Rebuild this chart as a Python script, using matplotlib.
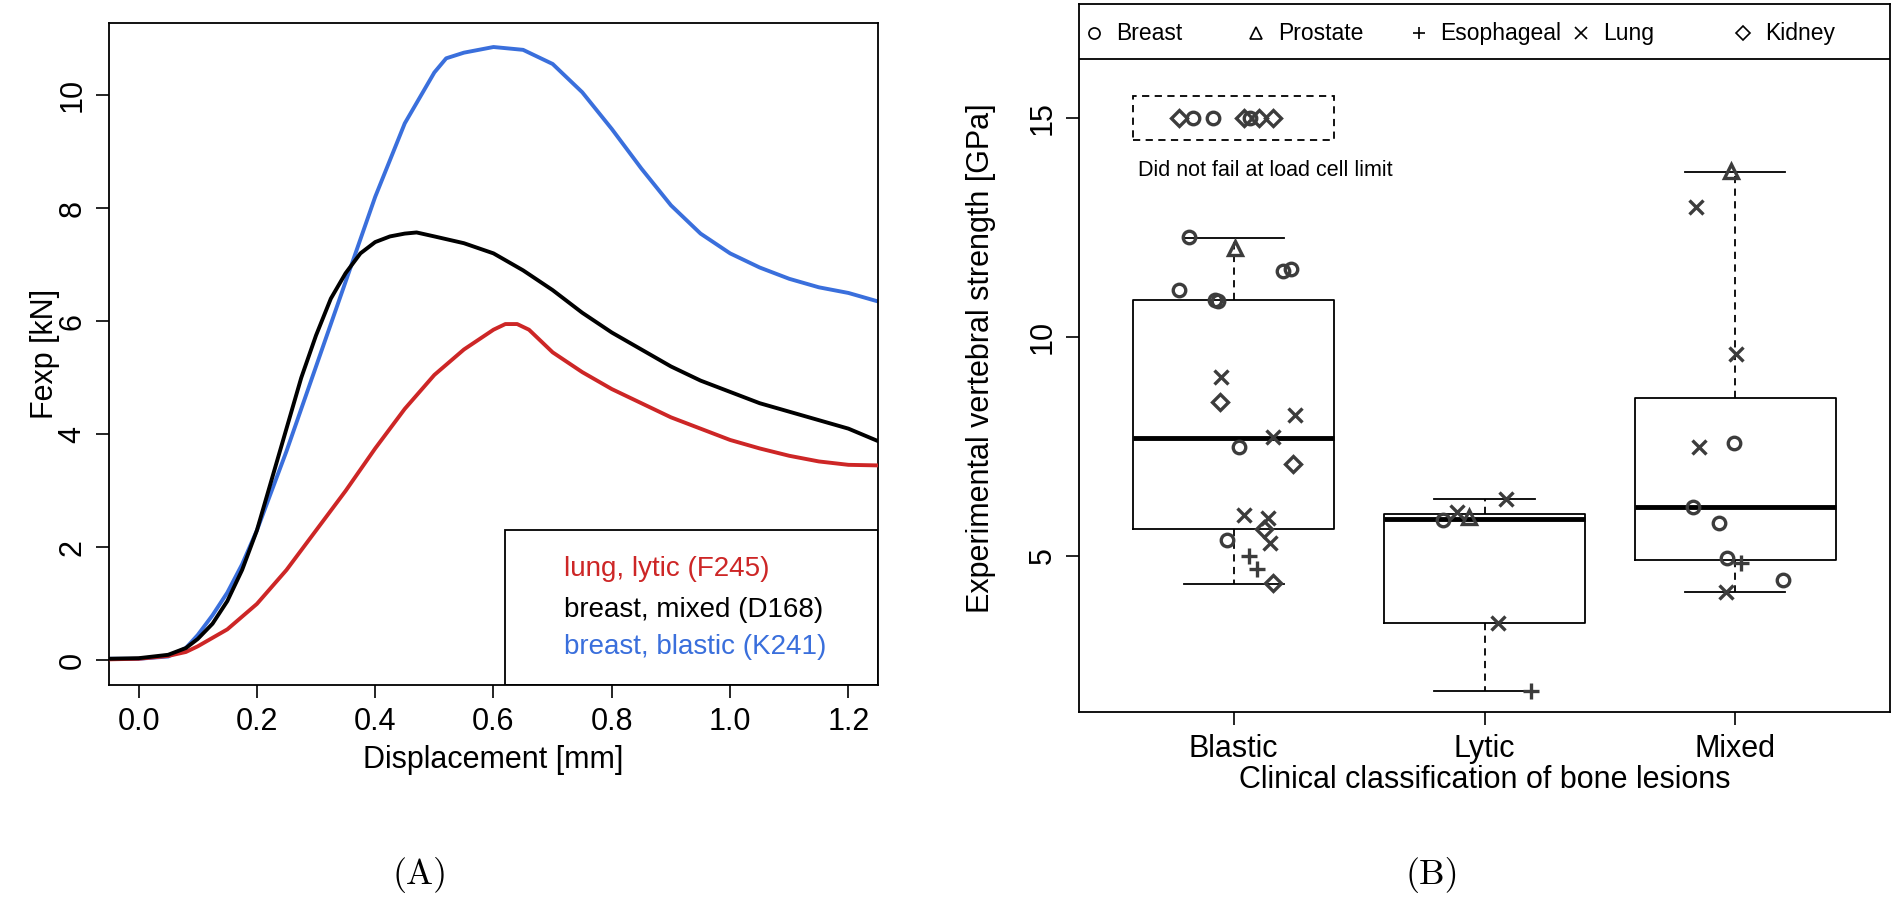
import matplotlib
matplotlib.use('Agg')
import matplotlib.pyplot as plt
from matplotlib.patches import Rectangle
from matplotlib.lines import Line2D

plt.rcParams['font.family'] = ['Liberation Sans', 'DejaVu Sans']

# ---- panel A: force-displacement curves ----
x_blastic = [-0.05, 0.0, 0.05, 0.08, 0.1, 0.125, 0.15, 0.175, 0.2, 0.25, 0.3, 0.35, 0.4, 0.45,
             0.5, 0.52, 0.55, 0.6, 0.65, 0.7, 0.75, 0.8, 0.85, 0.9, 0.95, 1.0, 1.05, 1.1, 1.15, 1.2, 1.25]
f_blastic = [0.03, 0.03, 0.07, 0.22, 0.45, 0.8, 1.2, 1.7, 2.3, 3.7, 5.2, 6.7, 8.2, 9.5,
             10.4, 10.65, 10.75, 10.85, 10.8, 10.55, 10.05, 9.4, 8.7, 8.05, 7.55, 7.2, 6.95, 6.75, 6.6, 6.5, 6.35]

x_mixed = [-0.05, 0.0, 0.05, 0.08, 0.1, 0.125, 0.15, 0.175, 0.2, 0.225, 0.25, 0.275, 0.3, 0.325, 0.35,
           0.375, 0.4, 0.425, 0.45, 0.47, 0.5, 0.55, 0.6, 0.65, 0.7, 0.75, 0.8, 0.85, 0.9, 0.95,
           1.0, 1.05, 1.1, 1.15, 1.2, 1.25]
f_mixed = [0.03, 0.04, 0.1, 0.22, 0.38, 0.65, 1.05, 1.6, 2.3, 3.2, 4.1, 5.0, 5.75, 6.4, 6.85,
           7.2, 7.4, 7.5, 7.55, 7.57, 7.5, 7.38, 7.2, 6.9, 6.55, 6.15, 5.8, 5.5, 5.2, 4.95,
           4.75, 4.55, 4.4, 4.25, 4.1, 3.88]

x_lytic = [-0.05, 0.0, 0.05, 0.08, 0.1, 0.15, 0.2, 0.25, 0.3, 0.35, 0.4, 0.45, 0.5, 0.55, 0.6,
           0.62, 0.64, 0.66, 0.7, 0.75, 0.8, 0.85, 0.9, 0.95, 1.0, 1.05, 1.1, 1.15, 1.2, 1.25]
f_lytic = [0.02, 0.03, 0.08, 0.15, 0.25, 0.55, 1.0, 1.6, 2.3, 3.0, 3.75, 4.45, 5.05, 5.5, 5.85,
           5.95, 5.95, 5.85, 5.45, 5.1, 4.8, 4.55, 4.3, 4.1, 3.9, 3.75, 3.62, 3.52, 3.46, 3.45]

curve_labels = ['lung, lytic (F245)', 'breast, mixed (D168)', 'breast, blastic (K241)']
curve_colors = ['#cd2626', '#000000', '#3a6fdc']

# ---- panel B: strength by lesion type ----
groups = ['Blastic', 'Lytic', 'Mixed']
q1 = [5.61, 3.47, 4.91]
med = [7.69, 5.84, 6.12]
q3 = [10.85, 5.96, 8.60]
whislo = [4.36, 1.92, 4.18]
whishi = [12.27, 6.30, 13.77]

# points: group index, jitter, strength
breast_g = [1, 1, 1, 1, 1, 1, 1, 1, 2, 3, 3, 3, 3, 3]
breast_dx = [-0.18, 0.195, 0.23, -0.22, -0.076, -0.064, 0.02, -0.028, -0.167, -0.004, -0.167, -0.064, -0.032, 0.19]
breast_y = [12.29, 11.50, 11.56, 11.08, 10.85, 10.83, 7.48, 5.36, 5.82, 7.57, 6.12, 5.75, 4.95, 4.45]

prostate_g = [1, 2, 3]
prostate_dx = [0.004, -0.06, -0.016]
prostate_y = [12.04, 5.90, 13.79]

esoph_g = [1, 1, 2, 3]
esoph_dx = [0.06, 0.092, 0.187, 0.024]
esoph_y = [5.00, 4.70, 1.92, 4.84]

lung_g = [1, 1, 1, 1, 1, 1, 2, 2, 2, 3, 3, 3, 3]
lung_dx = [-0.052, 0.243, 0.155, 0.04, 0.135, 0.143, -0.11, 0.084, 0.052, -0.155, 0.004, -0.143, -0.036]
lung_y = [9.08, 8.21, 7.71, 5.93, 5.87, 5.30, 6.00, 6.30, 3.47, 12.97, 9.62, 7.48, 4.18]

kidney_g = [1, 1, 1, 1]
kidney_dx = [-0.056, 0.235, 0.12, 0.155]
kidney_y = [8.51, 7.10, 5.62, 4.38]

# specimens that did not fail (plotted at 15)
nofail_marker = ['D', 'o', 'o', 'D', 'o', 'D', 'D']
nofail_dx = [-0.22, -0.163, -0.084, 0.04, 0.066, 0.1, 0.155]
nofail_y = [15, 15, 15, 15, 15, 15, 15]

legend_names = ['Breast', 'Prostate', 'Esophageal', 'Lung', 'Kidney']
legend_markers = ['o', '^', '+', 'x', 'D']

W, H = 1896, 924
fig = plt.figure(figsize=(W / 100, H / 100), dpi=100)

# ---------------- panel A ----------------
axA = fig.add_axes([109 / W, 1 - 685 / H, (878 - 109) / W, (685 - 22.7) / H])
axA.plot(x_blastic, f_blastic, color=curve_colors[2], lw=2.8, zorder=2)
axA.plot(x_lytic, f_lytic, color=curve_colors[0], lw=2.8, zorder=3)
axA.plot(x_mixed, f_mixed, color=curve_colors[1], lw=2.8, zorder=4)
axA.set_xlim(-0.05, 1.25)
axA.set_ylim(-0.434, 11.28)
axA.set_xticks([0.0, 0.2, 0.4, 0.6, 0.8, 1.0, 1.2])
axA.set_xticklabels(['0.0', '0.2', '0.4', '0.6', '0.8', '1.0', '1.2'])
axA.set_yticks([0, 2, 4, 6, 8, 10])
axA.set_xlabel('Displacement [mm]', fontsize=22)
axA.set_ylabel('Fexp [kN]', fontsize=22)
axA.xaxis.set_label_coords(0.5, -0.113)
axA.xaxis.label.set_va('center')
axA.yaxis.set_label_coords(-64 / 769, 0.5)
axA.yaxis.label.set_va('center')

# legend box of panel A
axA.add_patch(Rectangle((0.62, -0.434), 0.63, 2.3 + 0.434, fill=False, lw=1.3,
                        edgecolor='black', zorder=5))
for lab, col, yy in zip(curve_labels, curve_colors, [1.61, 0.90, 0.23]):
    axA.text(0.72, yy, lab, color=col, fontsize=20, ha='left', va='center', zorder=6)

# ---------------- panel B ----------------
axB = fig.add_axes([1079 / W, 1 - 712 / H, (1890 - 1079) / W, (712 - 4) / H])
stats = []
for i in range(3):
    stats.append({'med': med[i], 'q1': q1[i], 'q3': q3[i],
                  'whislo': whislo[i], 'whishi': whishi[i], 'fliers': []})
axB.bxp(stats, positions=[1, 2, 3], widths=0.8, capwidths=0.4, showfliers=False,
        boxprops=dict(color='black', lw=1.3),
        medianprops=dict(color='black', lw=3.5, solid_capstyle='butt'),
        whiskerprops=dict(color='black', lw=1.3, linestyle=(0, (4, 3))),
        capprops=dict(color='black', lw=1.3))

pt_color = '#3c3c3c'
def scatter(gs, dxs, ys, marker, ms):
    xs = [g + d for g, d in zip(gs, dxs)]
    axB.plot(xs, ys, linestyle='none', marker=marker, ms=ms, mfc='none',
             mec=pt_color, mew=2.4, zorder=4)

scatter(breast_g, breast_dx, breast_y, 'o', 9)
scatter(prostate_g, prostate_dx, prostate_y, '^', 10)
scatter(esoph_g, esoph_dx, esoph_y, '+', 12)
scatter(lung_g, lung_dx, lung_y, 'x', 10)
scatter(kidney_g, kidney_dx, kidney_y, 'D', 8)
for m, d, y in zip(nofail_marker, nofail_dx, nofail_y):
    scatter([1], [d], [y], m, 9 if m == 'o' else 8)

axB.add_patch(Rectangle((0.6, 14.5), 0.8, 1.0, fill=False, lw=1.3,
                        linestyle=(0, (4, 3)), edgecolor='black'))
axB.text(0.62, 13.8, 'Did not fail at load cell limit', fontsize=15.5,
         ha='left', va='center')

axB.set_xlim(0.383, 3.617)
axB.set_ylim(1.44, 17.6)
axB.set_xticks([1, 2, 3])
axB.set_xticklabels(groups)
axB.set_yticks([5, 10, 15])
axB.set_xlabel('Clinical classification of bone lesions', fontsize=22)
axB.set_ylabel('Experimental vertebral strength [GPa]', fontsize=22)
axB.xaxis.set_label_coords(0.5, -68 / 708)
axB.xaxis.label.set_va('center')
axB.yaxis.set_label_coords(-98 / 811, 0.5)
axB.yaxis.label.set_va('center')

# legend strip of panel B
axB.axhline(16.35, color='black', lw=1.3)
for k, (name, mk) in enumerate(zip(legend_names, legend_markers)):
    tx = (1116 - 1079) / 811 + k * 0.2001
    axB.add_line(Line2D([tx - 22 / 811], [0.959], transform=axB.transAxes, marker=mk,
                        ms=8 if mk != 'D' else 7, mfc='none', mec='black', mew=1.2,
                        linestyle='none'))
    axB.text(tx, 0.959, name, transform=axB.transAxes, fontsize=16.5,
             ha='left', va='center')

for ax in (axA, axB):
    for s in ax.spines.values():
        s.set_linewidth(1.3)
    ax.tick_params(direction='out', length=9.5, width=1.2, labelsize=22, pad=6)
    for lab in ax.get_yticklabels():
        lab.set_rotation(90)
        lab.set_va('center')

fig.text(420 / W, 1 - 875 / H, '(A)', family='cmr10', fontsize=26, ha='center', va='center')
fig.text(1432 / W, 1 - 875 / H, '(B)', family='cmr10', fontsize=26, ha='center', va='center')

fig.savefig('out.png', dpi=100)
